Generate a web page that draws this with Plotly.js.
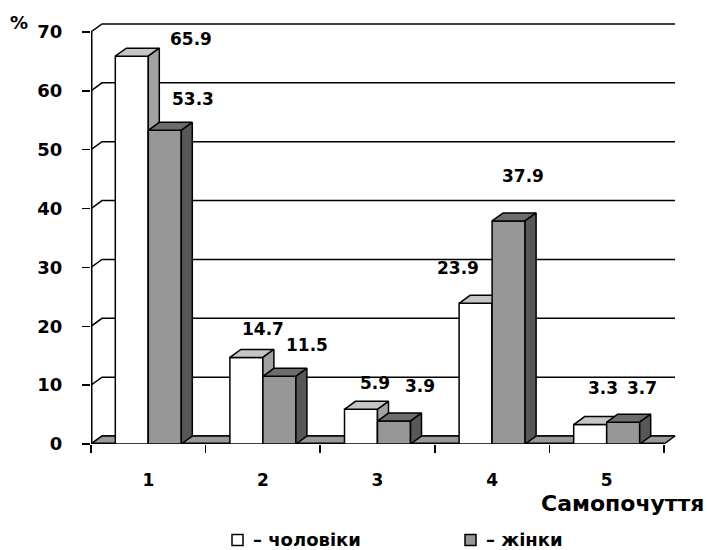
<!DOCTYPE html>
<html>
<head>
<meta charset="utf-8">
<script src="https://cdn.plot.ly/plotly-3.0.1.min.js"></script>
<style>html,body{margin:0;padding:0;background:#fff;}#chart{width:707px;height:550px;}</style>
</head>
<body>
<div id="chart"></div>
<script>
// ---- data ----
const categories = ['1', '2', '3', '4', '5'];
const catPos = [1, 2, 3, 4, 5];
const men = [65.9, 14.7, 5.9, 23.9, 3.3];
const women = [53.3, 11.5, 3.9, 37.9, 3.7];
const yTicks = [0, 10, 20, 30, 40, 50, 60, 70];
const seriesNames = ['– чоловіки', '– жінки'];
const xTitle = 'Самопочуття';
const yUnit = '%';

// ---- label offsets (pixels) ----
const menShift = [[59, 17], [17, 28], [14, 26], [-18, 35], [13, 37]];
const womenShift = [[28, 31], [28, 31], [26, 35], [14, 45], [19, 34]];

// ---- geometry / style ----
const W = 707, H = 550;
const ML = 91, MB = 106, MT = 22, MR = 30;
const PW = W - ML - MR, PH = H - MT - MB;
const PXX = 114.6;            // px per category unit
const PXY = 412 / 70;         // px per percent
const DX = 11 / PXX, DY = 8 / PXY;   // 3D depth offset in data units
const BW = 33 / PXX;          // bar width
const xMin = catPos[0] - 0.5, xMax = catPos[catPos.length - 1] + 0.5;
const yMax = yTicks[yTicks.length - 1];
const xRange = [xMin, xMax + DX + 2 / PXX];
const yRange = [0, yMax + DY + 2 / PXY];
const FONT = 'DejaVu Sans';
const LW = 1.5;
const colors = {menFront: '#ffffff', menTop: '#c6c6c6', menSide: '#a2a2a2',
  womenFront: '#979797', womenTop: '#6c6c6c', womenSide: '#575757', floor: '#999999'};

const px2paperX = p => (p - ML) / PW;
const px2paperY = p => ((H - MB) - p) / PH;

function boxFaces(xs, vals, off) {
  const top = {x: [], y: []}, side = {x: [], y: []};
  xs.forEach((c, i) => {
    const xl = c + off, xr = xl + BW, v = vals[i];
    top.x.push(xl, xr, xr + DX, xl + DX, xl, null);
    top.y.push(v, v, v + DY, v + DY, v, null);
    side.x.push(xr, xr + DX, xr + DX, xr, xr, null);
    side.y.push(0, DY, v + DY, v, 0, null);
  });
  return {top, side};
}

const traces = [];
// back wall gridlines + side-wall connectors
const gx = [], gy = [];
yTicks.forEach(v => {
  gx.push(xMin, xMin + DX, xMax + DX, null);
  gy.push(v, v + DY, v + DY, null);
});
traces.push({type: 'scatter', mode: 'lines', x: gx, y: gy, xaxis: 'x', yaxis: 'y',
  line: {color: '#000', width: LW}, showlegend: false, hoverinfo: 'skip'});
// floor
traces.push({type: 'scatter', mode: 'lines', x: [xMin, xMax, xMax + DX, xMin + DX, xMin],
  y: [0, 0, DY, DY, 0], fill: 'toself', fillcolor: colors.floor,
  line: {color: '#000', width: LW}, xaxis: 'x', yaxis: 'y', showlegend: false, hoverinfo: 'skip'});
// front axis lines
traces.push({type: 'scatter', mode: 'lines', x: [xMin, xMin, null, xMin, xMax], y: [yMax, 0, null, 0, 0],
  line: {color: '#000', width: 3}, xaxis: 'x', yaxis: 'y', showlegend: false, hoverinfo: 'skip'});

// men (white) layer
const mf = boxFaces(catPos, men, -BW);
traces.push({type: 'bar', x: catPos, y: men, width: BW, offset: -BW, name: seriesNames[0], showlegend: false,
  marker: {color: colors.menFront, line: {color: '#000', width: LW}}, xaxis: 'x2', yaxis: 'y2', hoverinfo: 'skip'});
traces.push({type: 'scatter', mode: 'lines', x: mf.top.x, y: mf.top.y, fill: 'toself', fillcolor: colors.menTop,
  line: {color: '#000', width: LW}, xaxis: 'x2', yaxis: 'y2', showlegend: false, hoverinfo: 'skip'});
traces.push({type: 'scatter', mode: 'lines', x: mf.side.x, y: mf.side.y, fill: 'toself', fillcolor: colors.menSide,
  line: {color: '#000', width: LW}, xaxis: 'x2', yaxis: 'y2', showlegend: false, hoverinfo: 'skip'});

// women (grey) layer
const wf = boxFaces(catPos, women, 0);
traces.push({type: 'bar', x: catPos, y: women, width: BW, offset: 0, name: seriesNames[1], showlegend: false,
  marker: {color: colors.womenFront, line: {color: '#000', width: LW}}, xaxis: 'x3', yaxis: 'y3', hoverinfo: 'skip'});
traces.push({type: 'scatter', mode: 'lines', x: wf.top.x, y: wf.top.y, fill: 'toself', fillcolor: colors.womenTop,
  line: {color: '#000', width: LW}, xaxis: 'x3', yaxis: 'y3', showlegend: false, hoverinfo: 'skip'});
traces.push({type: 'scatter', mode: 'lines', x: wf.side.x, y: wf.side.y, fill: 'toself', fillcolor: colors.womenSide,
  line: {color: '#000', width: LW}, xaxis: 'x3', yaxis: 'y3', showlegend: false, hoverinfo: 'skip'});

const labelFont = {family: FONT, size: 17, color: '#000', weight: 'bold'};
const annotations = [];
catPos.forEach((c, i) => {
  annotations.push({xref: 'x', yref: 'y', x: c - BW / 2, y: men[i], text: men[i].toFixed(1),
    showarrow: false, xanchor: 'center', yanchor: 'middle', xshift: menShift[i][0], yshift: menShift[i][1], font: labelFont});
  annotations.push({xref: 'x', yref: 'y', x: c + BW / 2, y: women[i], text: women[i].toFixed(1),
    showarrow: false, xanchor: 'center', yanchor: 'middle', xshift: womenShift[i][0], yshift: womenShift[i][1], font: labelFont});
});
annotations.push({xref: 'paper', yref: 'paper', x: px2paperX(706), y: px2paperY(503),
  text: xTitle, showarrow: false, xanchor: 'right', yanchor: 'middle',
  font: {family: FONT, size: 22, color: '#000', weight: 'bold'}});
annotations.push({xref: 'paper', yref: 'paper', x: px2paperX(19), y: px2paperY(22),
  text: yUnit, showarrow: false, xanchor: 'center', yanchor: 'middle',
  font: {family: FONT, size: 18, color: '#000', weight: 'bold'}});

// manual legend (swatches + labels)
const legendFont = {family: FONT, size: 18, color: '#000', weight: 'bold'};
const legendItems = [
  {sq: 232, text: 251, fill: colors.menFront, name: seriesNames[0]},
  {sq: 465, text: 484, fill: colors.womenFront, name: seriesNames[1]}
];
const shapes = [];
const LEG_Y = 540, SQ = 11;
legendItems.forEach(it => {
  shapes.push({type: 'rect', xref: 'paper', yref: 'paper',
    x0: px2paperX(it.sq), x1: px2paperX(it.sq + SQ), y0: px2paperY(LEG_Y + SQ / 2), y1: px2paperY(LEG_Y - SQ / 2),
    fillcolor: it.fill, line: {color: '#000', width: LW}});
  annotations.push({xref: 'paper', yref: 'paper', x: px2paperX(it.text), y: px2paperY(LEG_Y - 1),
    text: it.name, showarrow: false, xanchor: 'left', yanchor: 'middle', font: legendFont});
});

const hidden = {visible: false, fixedrange: true};
const layout = {
  width: W, height: H,
  margin: {l: ML, r: MR, t: MT, b: MB, pad: 0},
  paper_bgcolor: '#fff', plot_bgcolor: 'rgba(0,0,0,0)',
  font: {family: FONT, color: '#000'},
  showlegend: false,
  xaxis: {range: xRange, tickvals: catPos, ticktext: categories, ticks: '', showgrid: false, zeroline: false,
    showline: false, fixedrange: true, ticklabelstandoff: 24,
    tickfont: {family: FONT, size: 17, color: '#000', weight: 'bold'},
    minor: {tickmode: 'array', tickvals: catPos.map(c => c - 0.5).concat([xMax]), ticks: 'outside',
      ticklen: 8, tickwidth: LW, tickcolor: '#000', showgrid: false}},
  yaxis: {range: yRange, tickvals: yTicks, ticks: 'outside', ticklen: 8, tickwidth: LW, tickcolor: '#000',
    showgrid: false, zeroline: false, showline: false, fixedrange: true, ticklabelstandoff: 16,
    tickfont: {family: FONT, size: 18, color: '#000', weight: 'bold'}},
  xaxis2: Object.assign({overlaying: 'x', range: xRange}, hidden),
  yaxis2: Object.assign({overlaying: 'y', range: yRange}, hidden),
  xaxis3: Object.assign({overlaying: 'x', range: xRange}, hidden),
  yaxis3: Object.assign({overlaying: 'y', range: yRange}, hidden),
  shapes: shapes,
  annotations: annotations
};
Plotly.newPlot('chart', traces, layout, {staticPlot: true, displayModeBar: false});
</script>
</body>
</html>
